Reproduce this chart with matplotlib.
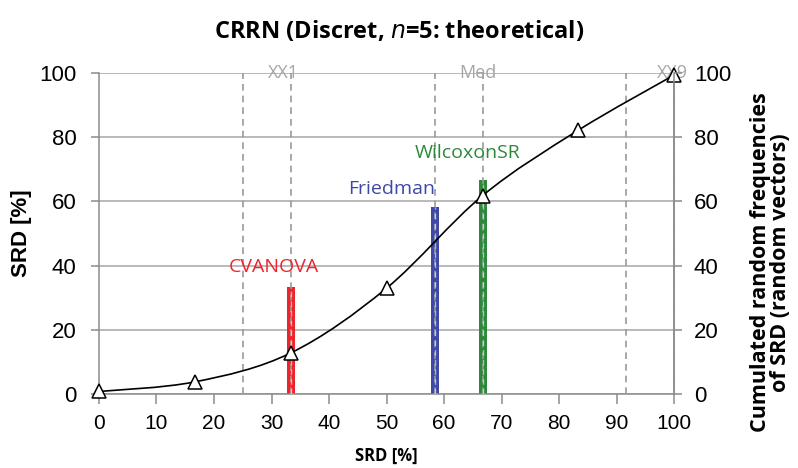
import numpy as np
import matplotlib
matplotlib.use('Agg')
import matplotlib.pyplot as plt
from matplotlib.path import Path
from matplotlib.patches import PathPatch

# cumulated random frequencies (theoretical, n=5)
srd_x = [0, 16.67, 33.33, 50, 66.67, 83.33, 100]
cum_freq = [0.8, 3.8, 12.8, 33.0, 61.8, 82.2, 99.4]

# quantile lines (XX1, Med, XX9) drawn as dashed pairs
qline_x = [25, 33.33, 58.33, 66.67, 91.67, 100]
qlabels = ['XX1', 'Med', 'XX9']
qlabel_x = [32, 65.8, 99.6]

# method SRD values
methods = ['CVANOVA', 'Friedman', 'WilcoxonSR']
method_srd = [33.33, 58.33, 66.67]
method_colors = ['#f0232a', '#3f48a8', '#2a8a3a']
label_pos = [(30.4, 39.5), (50.8, 64.0), (64.0, 75.0)]

arial = ['Liberation Sans', 'DejaVu Sans']
calibri = ['Open Sans', 'DejaVu Sans']


def smooth_path(xs, ys):
    pts = np.column_stack([xs, ys])
    ext = np.vstack([pts[0], pts, pts[-1]])
    verts = [pts[0]]
    codes = [Path.MOVETO]
    for i in range(1, len(ext) - 2):
        p0, p1, p2, p3 = ext[i - 1], ext[i], ext[i + 1], ext[i + 2]
        verts += [p1 + (p2 - p0) / 6, p2 - (p3 - p1) / 6, p2]
        codes += [Path.CURVE4] * 3
    return Path(verts, codes)


fig = plt.figure(figsize=(7.98, 4.68), dpi=100)
ax = fig.add_axes([0.124, 0.158, 0.721, 0.686])

ax.set_xlim(0, 100)
ax.set_ylim(0, 100)
ax.set_yticks(range(0, 101, 20))
ax.set_xticks(range(0, 101, 10))
ax.grid(axis='y', color='#a6a6a6', lw=1.1)
ax.set_axisbelow(True)
ax.spines['top'].set_visible(False)
for s in ['left', 'bottom', 'right']:
    ax.spines[s].set_color('#8c8c8c')
    ax.spines[s].set_linewidth(1.1)
ax.tick_params(axis='y', length=6, width=1.1, color='#8c8c8c', pad=10, labelsize=16)
ax.tick_params(axis='x', length=7, width=1.1, color='#8c8c8c', pad=7, labelsize=15)
for lab in ax.get_xticklabels() + ax.get_yticklabels():
    lab.set_family(arial)

# colored method bars
for x, h, c in zip(method_srd, method_srd, method_colors):
    ax.bar(x, h, width=1.4, color=c, zorder=2)

# dashed quantile lines
for x in qline_x:
    ax.axvline(x, color='#999999', lw=1.2, ls=(0, (4, 3)), zorder=3)
for x, h in zip(method_srd, method_srd):
    ax.plot([x, x], [0, h], color='white', alpha=0.55, lw=1.0, ls=(0, (4, 3)), zorder=3.5)

for x, t in zip(qlabel_x, qlabels):
    ax.text(x, 100, t, ha='center', va='center', color='#a6a6a6', fontsize=13,
            family=calibri, zorder=4)

for (lx, ly), t, c in zip(label_pos, methods, method_colors):
    ax.text(lx, ly, t, ha='center', va='center', color=c, fontsize=14, family=calibri, zorder=4)

# smoothed cumulative curve with triangles
ax.add_patch(PathPatch(smooth_path(srd_x, cum_freq), fill=False, edgecolor='black',
                       lw=1.2, zorder=5, clip_on=False))
ax.plot(srd_x, cum_freq, ls='none', marker='^', ms=10, mfc='white', mec='black',
        mew=1.1, zorder=6, clip_on=False)

ax.set_ylabel('SRD [%]', fontsize=16, fontweight='bold', family=arial)
ax.yaxis.set_label_coords(-0.117, 0.5)
ax.set_xlabel('SRD [%]', fontsize=12, fontweight='bold', family=calibri, labelpad=10)

ax2 = ax.twinx()
ax2.set_ylim(0, 100)
ax2.set_yticks(range(0, 101, 20))
for s in ['top', 'left', 'bottom']:
    ax2.spines[s].set_visible(False)
ax2.spines['right'].set_color('#8c8c8c')
ax2.spines['right'].set_linewidth(1.1)
ax2.tick_params(axis='y', length=6, width=1.1, color='#8c8c8c', pad=8, labelsize=16)
for lab in ax2.get_yticklabels():
    lab.set_family(arial)
ax2.set_ylabel('Cumulated random frequencies\nof SRD (random vectors)', fontsize=15.5,
               fontweight='bold', family=calibri, linespacing=0.95)
ax2.yaxis.set_label_coords(1.132, 0.41)

fig.suptitle(r'CRRN (Discret, $\it{n}$=5: theoretical)', x=0.5, y=0.96, fontsize=17,
             fontweight='bold', family=calibri)

fig.savefig('out.png', dpi=100)
